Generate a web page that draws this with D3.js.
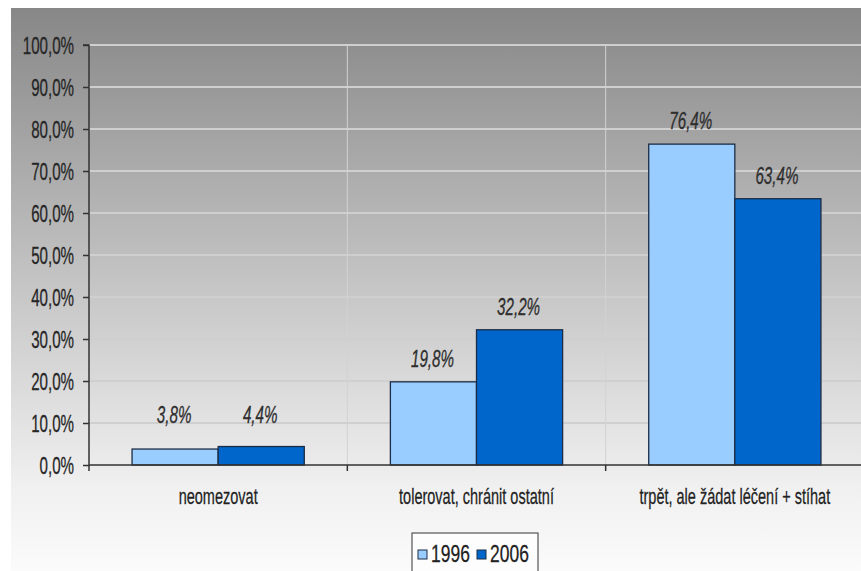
<!DOCTYPE html>
<html>
<head>
<meta charset="utf-8">
<script src="https://cdn.jsdelivr.net/npm/d3@7"></script>
<style>
  html, body { margin: 0; padding: 0; background: #ffffff; }
  svg { display: block; }
  text { font-family: "Liberation Sans", Arial, sans-serif; }
</style>
</head>
<body>
<svg id="chart" width="861" height="571"></svg>
<script>
// Categories (answers) and the two survey years
const categories = ["neomezovat", "tolerovat, chránit ostatní", "trpět, ale žádat léčení + stíhat"];
const seriesNames = ["1996", "2006"];
const values1996 = [3.8, 19.8, 76.4];
const values2006 = [4.4, 32.2, 63.4];
const yTicks = [0, 10, 20, 30, 40, 50, 60, 70, 80, 90, 100];
const seriesColors = ["#99ccff", "#0066cc"];

const W = 861, H = 571;
const margin = { left: 89, top: 45, right: -3, bottom: 106 };
const plotW = W - margin.left - margin.right;
const plotH = H - margin.top - margin.bottom;

const svg = d3.select("#chart");

// Background gradient panel
const defs = svg.append("defs");
const grad = defs.append("linearGradient").attr("id", "bg").attr("x1", 0).attr("y1", 0).attr("x2", 0).attr("y2", 1);
grad.append("stop").attr("offset", "0%").attr("stop-color", "#878787");
grad.append("stop").attr("offset", "50%").attr("stop-color", "#c6c6c6");
grad.append("stop").attr("offset", "85%").attr("stop-color", "#f0f0f0");
grad.append("stop").attr("offset", "100%").attr("stop-color", "#fbfbfb");
svg.append("rect").attr("x", 11).attr("y", 8).attr("width", W - 11).attr("height", H - 8).attr("fill", "url(#bg)");

const g = svg.append("g").attr("transform", `translate(${margin.left},${margin.top})`);

const y = d3.scaleLinear().domain([0, 100]).range([plotH, 0]);
const x0 = d3.scaleBand().domain(categories).range([0, plotW]).padding(0);
const x1 = d3.scaleBand().domain(seriesNames).range([0, x0.bandwidth()]).paddingInner(0).paddingOuter(0.5);

const fmt = v => d3.format(".1f")(v).replace(".", ",") + "%";

// Horizontal gridlines
g.append("g").selectAll("line").data(yTicks.filter(t => t > 0)).join("line")
  .attr("x1", 0).attr("x2", plotW)
  .attr("y1", d => y(d)).attr("y2", d => y(d))
  .attr("stroke", "#cfcfcf").attr("stroke-width", 2);

// Vertical gridlines between categories
g.append("g").selectAll("line").data(categories.slice(1)).join("line")
  .attr("x1", d => x0(d)).attr("x2", d => x0(d))
  .attr("y1", 0).attr("y2", plotH)
  .attr("stroke", "#d2d2d2").attr("stroke-width", 1);

// Bars
const rows = categories.map((c, i) => ({ cat: c, vals: [values1996[i], values2006[i]] }));
const groups = g.append("g").selectAll("g").data(rows).join("g")
  .attr("transform", d => `translate(${x0(d.cat)},0)`);
groups.selectAll("rect").data(d => d.vals.map((v, j) => ({ s: seriesNames[j], v, j }))).join("rect")
  .attr("x", d => x1(d.s)).attr("width", x1.bandwidth())
  .attr("y", d => y(d.v)).attr("height", d => y(0) - y(d.v))
  .attr("fill", d => seriesColors[d.j])
  .attr("stroke", "#1c2c44").attr("stroke-width", 1.3);

// Value labels above bars (never lower than the 10 % line)
const labelFloor = 10;
groups.selectAll("text.val").data(d => d.vals.map((v, j) => ({ s: seriesNames[j], v, j }))).join("text")
  .attr("class", "val")
  .attr("transform", d => `translate(${x1(d.s) + x1.bandwidth() / 2 - 1},${Math.min(y(d.v) - 15, y(labelFloor))}) scale(0.66,1)`)
  .attr("text-anchor", "middle")
  .attr("font-size", 23).attr("font-style", "italic").attr("fill", "#2e2e2e")
  .attr("stroke", "#2e2e2e").attr("stroke-width", 0.3)
  .text(d => fmt(d.v));

// Y axis
const yAxis = g.append("g").call(d3.axisLeft(y).tickValues(yTicks).tickSize(6).tickFormat(fmt));
yAxis.select(".domain").attr("stroke", "#333").attr("stroke-width", 1.5).attr("d", `M-6,0H0V${plotH}`);
yAxis.selectAll(".tick line").attr("stroke", "#333").attr("stroke-width", 1.5);
yAxis.selectAll(".tick text")
  .attr("x", null).attr("dy", null)
  .attr("transform", "translate(-15,8) scale(0.63,1)")
  .attr("font-size", 24).attr("fill", "#262626")
  .attr("stroke", "#262626").attr("stroke-width", 0.3);

// X axis
const xAxisG = g.append("g").attr("transform", `translate(0,${plotH})`);
xAxisG.append("line").attr("x1", 0).attr("x2", plotW).attr("stroke", "#333").attr("stroke-width", 1.5);
xAxisG.selectAll("line.tk").data(categories).join("line").attr("class", "tk")
  .attr("x1", d => x0(d)).attr("x2", d => x0(d)).attr("y1", 0).attr("y2", 6)
  .attr("stroke", "#333").attr("stroke-width", 1.5);
xAxisG.selectAll("text").data(categories).join("text")
  .attr("transform", d => `translate(${x0(d) + x0.bandwidth() / 2},39) scale(0.66,1)`)
  .attr("text-anchor", "middle").attr("font-size", 22).attr("fill", "#222")
  .attr("stroke", "#222").attr("stroke-width", 0.25)
  .text(d => d);

// Legend
const legend = svg.append("g").attr("transform", "translate(412,533)");
legend.append("rect").attr("width", 126).attr("height", 45)
  .attr("fill", "#fdfdfd").attr("stroke", "#333").attr("stroke-width", 1);
const items = legend.selectAll("g").data(seriesNames).join("g")
  .attr("transform", (d, i) => `translate(${6 + i * 59},0)`);
items.append("rect").attr("y", 17).attr("width", 9).attr("height", 9)
  .attr("fill", (d, i) => seriesColors[i]).attr("stroke", "#1c2c44").attr("stroke-width", 1);
items.append("text").attr("transform", "translate(13,29) scale(0.76,1)")
  .attr("font-size", 23).attr("fill", "#222")
  .attr("stroke", "#222").attr("stroke-width", 0.25).text(d => d);
</script>
</body>
</html>
